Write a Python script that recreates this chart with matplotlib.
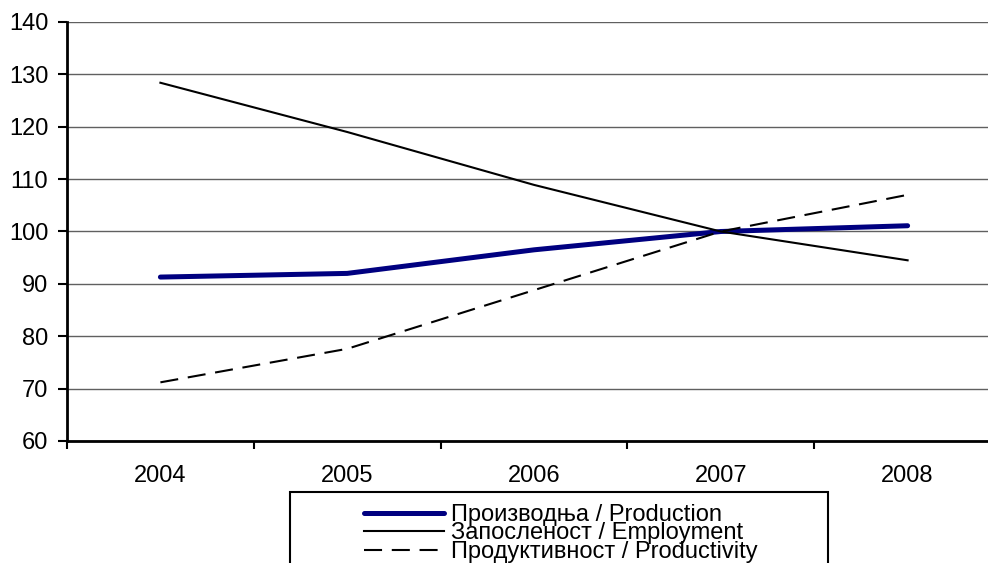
import matplotlib
matplotlib.use('Agg')
import matplotlib.pyplot as plt
from matplotlib.lines import Line2D
from matplotlib.patches import Rectangle

plt.rcParams['font.family'] = ['Liberation Sans', 'DejaVu Sans']
plt.rcParams['lines.scale_dashes'] = False

years = ['2004', '2005', '2006', '2007', '2008']
production = [91.3, 92.0, 96.5, 100.0, 101.1]
employment = [128.4, 119.0, 108.9, 100.0, 94.5]
productivity = [71.2, 77.6, 88.8, 100.0, 107.0]
labels = ['Производња / Production', 'Запосленост / Employment', 'Продуктивност / Productivity']
yticks = list(range(60, 141, 10))

fig = plt.figure(figsize=(9.88, 5.63), dpi=100)
ax = fig.add_axes([67 / 988, 122 / 563, 934 / 988, 419 / 563])

x = list(range(len(years)))
l1, = ax.plot(x, production, color='#000080', lw=3.6, solid_capstyle='round')
l2, = ax.plot(x, employment, color='black', lw=1.5)
l3, = ax.plot(x, productivity, color='black', lw=1.5, dashes=(13, 7))

ax.set_xlim(-0.5, len(years) - 0.5)
ax.set_ylim(60, 140)
ax.set_yticks(yticks)
ax.yaxis.grid(True, color='#606060', lw=1.0)
ax.set_axisbelow(True)

# category labels at centres, tick marks at boundaries
ax.set_xticks([i - 0.5 for i in range(len(years) + 1)])
ax.set_xticklabels([])
ax.set_xticks(x, minor=True)
ax.set_xticklabels(years, minor=True)
ax.tick_params(axis='x', which='major', direction='out', length=6, width=1.5)
ax.tick_params(axis='x', which='minor', length=0, pad=17, labelsize=17)
ax.tick_params(axis='y', direction='out', length=6.5, width=1.5, pad=7, labelsize=17)

for s in ['top', 'right']:
    ax.spines[s].set_visible(False)
for s in ['left', 'bottom']:
    ax.spines[s].set_linewidth(2)

fig.patches.append(Rectangle((290 / 988, -0.1), 538 / 988, 0.1 + 71 / 563,
                             transform=fig.transFigure, fill=False,
                             edgecolor='black', lw=1.5))
handles = [Line2D([], [], color='#000080', lw=3.6, solid_capstyle='round'),
           Line2D([], [], color='black', lw=1.5),
           Line2D([], [], color='black', lw=1.5, dashes=(13, 7))]
fig.legend(handles, labels, loc='upper center', bbox_to_anchor=(561 / 988, 59 / 563),
           frameon=False, fontsize=17, handlelength=3.4, handletextpad=0.3,
           labelspacing=-0.15, borderpad=0, borderaxespad=0)

fig.savefig('out.png', dpi=100)
